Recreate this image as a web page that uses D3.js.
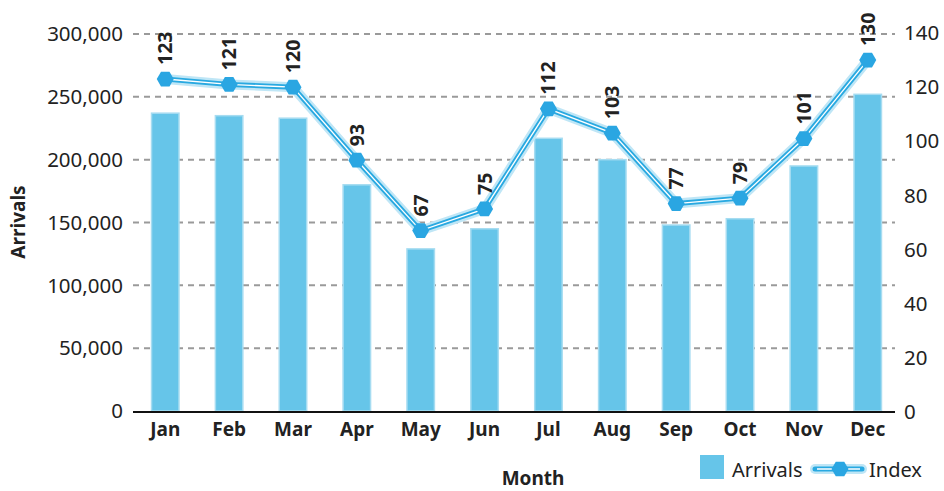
<!DOCTYPE html>
<html>
<head>
<meta charset="utf-8">
<script src="https://cdnjs.cloudflare.com/ajax/libs/d3/7.8.5/d3.min.js"></script>
<style>
body { margin: 0; background: #fff; }
text { font-family: "Noto Sans", "Open Sans", sans-serif; fill: #222; }
</style>
</head>
<body>
<div id="chart"></div>
<script>
var months = ["Jan", "Feb", "Mar", "Apr", "May", "Jun", "Jul", "Aug", "Sep", "Oct", "Nov", "Dec"]
var arrivals = [237000, 235000, 233000, 180000, 129000, 145000, 217000, 200000, 148000, 153000, 195000, 252000]
var indexValues = [123, 121, 120, 93, 67, 75, 112, 103, 77, 79, 101, 130]
var leftTicks = [0, 50000, 100000, 150000, 200000, 250000, 300000]
var rightTicks = [0, 20, 40, 60, 80, 100, 120, 140]

var width = 944, height = 491
var plotLeft = 133, plotRight = 900, plotTop = 34, plotBottom = 411

var svg = d3.select("#chart").append("svg")
	.attr("width", width)
	.attr("height", height)

var x = d3.scaleBand()
	.domain(months)
	.range([plotLeft, plotRight])
	.paddingInner(0.57)
	.paddingOuter(0.29)

var yL = d3.scaleLinear().domain([0, 300000]).range([plotBottom, plotTop])
var yR = d3.scaleLinear().domain([0, 140]).range([plotBottom + 1, plotTop - 1])

// gridlines
svg.append("g")
	.selectAll("line")
	.data(leftTicks.slice(1))
	.enter().append("line")
	.attr("x1", plotLeft)
	.attr("x2", 895)
	.attr("y1", d => yL(d))
	.attr("y2", d => yL(d))
	.attr("stroke", "#9a9a9a")
	.attr("stroke-width", 2)
	.attr("stroke-dasharray", "6,5")

// left tick labels
svg.append("g")
	.selectAll("text")
	.data(leftTicks)
	.enter().append("text")
	.attr("x", 123)
	.attr("y", d => yL(d))
	.attr("dy", "0.35em")
	.attr("text-anchor", "end")
	.style("font-size", "20.5px")
	.text(d => d3.format(",")(d))

// right tick labels
svg.append("g")
	.selectAll("text")
	.data(rightTicks)
	.enter().append("text")
	.attr("x", 904)
	.attr("y", d => yR(d))
	.attr("dy", "0.35em")
	.style("font-size", "20.5px")
	.text(d => d)

// bars
svg.append("g")
	.selectAll("rect")
	.data(arrivals)
	.enter().append("rect")
	.attr("x", (d, i) => x(months[i]))
	.attr("y", d => yL(d))
	.attr("width", x.bandwidth())
	.attr("height", d => yL(0) - yL(d))
	.attr("fill", "#66c5e9")
	.attr("stroke", "#a6dcf1")
	.attr("stroke-width", 1.5)

// x axis line
svg.append("line")
	.attr("x1", plotLeft)
	.attr("x2", 895)
	.attr("y1", plotBottom + 1)
	.attr("y2", plotBottom + 1)
	.attr("stroke", "#111")
	.attr("stroke-width", 2)

// month labels
svg.append("g")
	.selectAll("text")
	.data(months)
	.enter().append("text")
	.attr("x", d => x(d) + x.bandwidth() / 2)
	.attr("y", 436)
	.attr("text-anchor", "middle")
	.style("font-size", "19px")
	.style("font-weight", "bold")
	.text(d => d)

// line
var pts = indexValues.map((v, i) => [x(months[i]) + x.bandwidth() / 2, yR(v)])
var line = d3.line()

svg.append("path")
	.attr("d", line(pts))
	.attr("fill", "none")
	.attr("stroke", "#bfe6f6")
	.attr("stroke-width", 10)
	.attr("stroke-linejoin", "round")
svg.append("path")
	.attr("d", line(pts))
	.attr("fill", "none")
	.attr("stroke", "#29a9e1")
	.attr("stroke-width", 5)
svg.append("path")
	.attr("d", line(pts))
	.attr("fill", "none")
	.attr("stroke", "#fff")
	.attr("stroke-width", 1.3)

function hexagon(cx, cy, r) {
	var p = d3.path()
	for (var k = 0; k < 6; k++) {
		var a = Math.PI / 3 * k
		var px = cx + r * Math.cos(a), py = cy + r * Math.sin(a)
		if (k == 0) p.moveTo(px, py); else p.lineTo(px, py)
	}
	p.closePath()
	return p.toString()
}

svg.append("g")
	.selectAll("path")
	.data(pts)
	.enter().append("path")
	.attr("d", d => hexagon(d[0], d[1], 8.5))
	.attr("fill", "#2aa6e2")

// value labels
svg.append("g")
	.selectAll("text")
	.data(indexValues)
	.enter().append("text")
	.attr("transform", (d, i) => "translate(" + (pts[i][0] + 7) + "," + (pts[i][1] - 14) + ") rotate(-90)")
	.style("font-size", "19.5px")
	.style("font-weight", "bold")
	.text(d => d)

// axis titles
svg.append("text")
	.attr("transform", "translate(25,222) rotate(-90)")
	.attr("text-anchor", "middle")
	.style("font-size", "19px")
	.style("font-weight", "bold")
	.text("Arrivals")

svg.append("text")
	.attr("x", 533)
	.attr("y", 485)
	.attr("text-anchor", "middle")
	.style("font-size", "19px")
	.style("font-weight", "bold")
	.text("Month")

// legend
var lg = svg.append("g")
lg.append("rect")
	.attr("x", 700).attr("y", 455).attr("width", 24).attr("height", 24)
	.attr("fill", "#66c5e9")
lg.append("text")
	.attr("x", 732).attr("y", 477)
	.style("font-size", "20px")
	.text("Arrivals")
lg.append("line").attr("x1", 815).attr("x2", 862).attr("y1", 469).attr("y2", 469)
	.attr("stroke", "#bfe6f6").attr("stroke-width", 10).attr("stroke-linecap", "round")
lg.append("line").attr("x1", 815).attr("x2", 862).attr("y1", 469).attr("y2", 469)
	.attr("stroke", "#29a9e1").attr("stroke-width", 5).attr("stroke-linecap", "round")
lg.append("line").attr("x1", 817).attr("x2", 860).attr("y1", 469).attr("y2", 469)
	.attr("stroke", "#fff").attr("stroke-width", 1.3)
lg.append("path").attr("d", hexagon(840, 469, 8.5)).attr("fill", "#2aa6e2")
lg.append("text")
	.attr("x", 869).attr("y", 477)
	.style("font-size", "20px")
	.text("Index")
</script>
</body>
</html>
